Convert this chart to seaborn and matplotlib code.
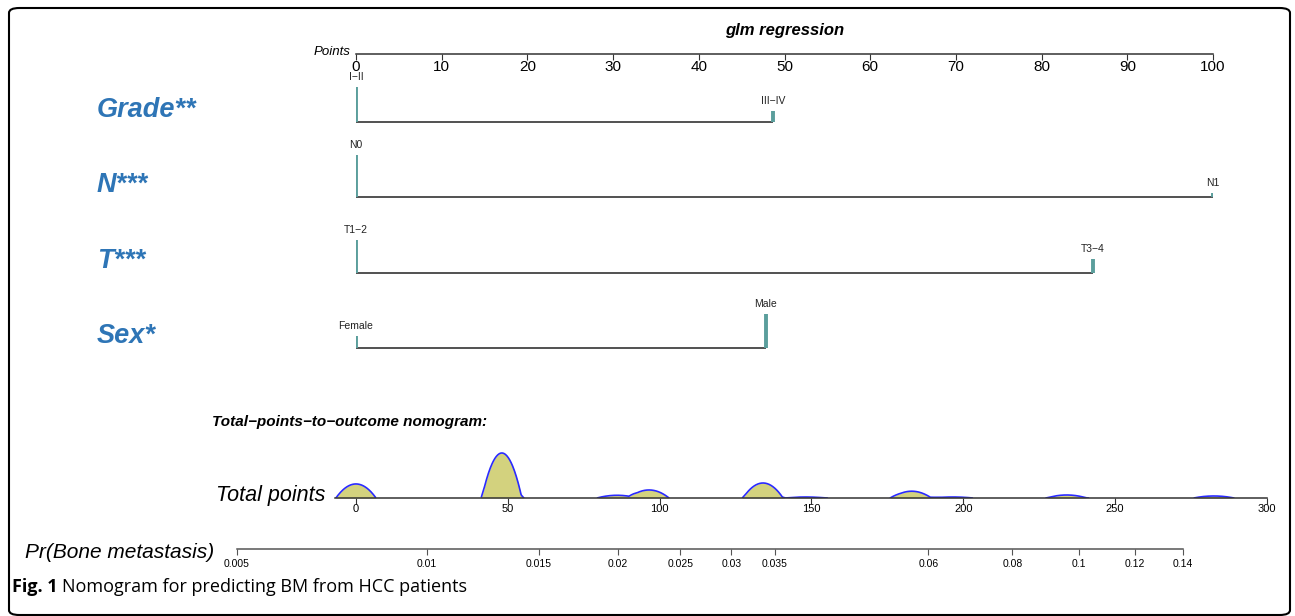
import matplotlib
matplotlib.use("Agg")
import matplotlib.pyplot as plt
import numpy as np
import seaborn as sns
from matplotlib.patches import FancyBboxPatch
from matplotlib.ticker import NullLocator

# ---- data ----
variables = ["Grade**", "N***", "T***", "Sex*"]
levels = [["I\u2212II", "III\u2212IV"], ["N0", "N1"], ["T1\u22122", "T3\u22124"],
          ["Female", "Male"]]
level_points = [[0, 48.7], [0, 100], [0, 86], [0, 47.8]]
level_share = [[0.77, 0.23], [0.91, 0.09], [0.71, 0.29], [0.26, 0.74]]

points_ticks = [0, 10, 20, 30, 40, 50, 60, 70, 80, 90, 100]
total_ticks = [0, 50, 100, 150, 200, 250, 300]

# total points of the observed covariate combinations and their frequency
total_values = [0, 47.8, 48.7, 86, 96.5, 133.8, 134.7, 147.8, 148.7,
                182.5, 186, 196.5, 233.8, 234.7, 282.5]
total_freq = [14, 33, 12, 2.7, 8, 11, 4, 0.7, 0.3, 6, 1, 1, 2.2, 0.8, 2]

prob_ticks = [0.005, 0.01, 0.015, 0.02, 0.025, 0.03, 0.035, 0.06, 0.08,
              0.1, 0.12, 0.14]
prob_labels = ["0.005", "0.01", "0.015", "0.02", "0.025", "0.03", "0.035",
               "0.06", "0.08", "0.1", "0.12", "0.14"]

# ---- style ----
W, H = 1295, 616
sns.set_theme(style="white")
plt.rcParams["font.family"] = ["Liberation Sans", "DejaVu Sans"]
plt.rcParams["text.color"] = "black"
plt.rcParams["xtick.color"] = "black"
plt.rcParams["xtick.labelcolor"] = "black"
teal = "#5b9e9c"
label_blue = "#2e75b6"

fig = plt.figure(figsize=(W / 100, H / 100), dpi=100)


def px_axes(x0, y0, x1, y1):
    return fig.add_axes([x0 / W, 1 - y1 / H, (x1 - x0) / W, (y1 - y0) / H])


def px_text(x, y, s, **kw):
    fig.text(x / W, 1 - y / H, s, **kw)


def axis_only(ax, color="#333333"):
    for side in ("top", "left", "right"):
        ax.spines[side].set_visible(False)
    ax.spines["bottom"].set_color(color)
    ax.spines["bottom"].set_linewidth(1.1)
    ax.set_yticks([])
    ax.patch.set_alpha(0)
    ax.tick_params(axis="x", direction="out", length=4, width=0.8,
                   color=color, pad=0, bottom=True)


# rounded frame
frame = FancyBboxPatch((9 / W, 1 - 615 / H), 1281 / W, 607 / H,
                       boxstyle="round,pad=0,rounding_size=0.008",
                       transform=fig.transFigure, fill=False,
                       edgecolor="black", linewidth=1.5)
fig.patches.append(frame)

# ---- Points scale ----
ax_pts = px_axes(356, 46, 1213, 54)
axis_only(ax_pts)
ax_pts.set_xlim(0, 100)
ax_pts.set_xticks(points_ticks)
ax_pts.tick_params(axis="x", labelsize=11)
px_text(785, 31, "glm regression", fontsize=12, fontweight="bold",
        fontstyle="italic", ha="center", va="center")
px_text(350, 52, "Points", fontsize=9.5, fontstyle="italic",
        ha="right", va="center")

# ---- variable rows ----
ax_rows = px_axes(356, 60, 1213, 360)
ax_rows.set_xlim(0, 100)
ax_rows.set_ylim(360, 60)
ax_rows.axis("off")
bar_scale = 46
for i, name in enumerate(variables):
    base = 122 + i * 75.3
    pts = level_points[i]
    ax_rows.hlines(base, min(pts), max(pts), color="#333333", lw=1.2)
    for lev, p, share in zip(levels[i], pts, level_share[i]):
        top = base - share * bar_scale
        ax_rows.vlines(p, base, top, color=teal, lw=2.8)
        ax_rows.text(p, top - 5, lev, fontsize=7.5, ha="center",
                     va="bottom", color="#222222")
    px_text(97, base - 12, name, fontsize=19.5, fontstyle="italic",
            fontweight="bold", color=label_blue, ha="left", va="center")

# ---- total points with Epanechnikov density ----
px_text(212, 422, "Total\u2212points\u2212to\u2212outcome nomogram:",
        fontsize=11, fontweight="bold", fontstyle="italic",
        ha="left", va="center")
ax_tot = px_axes(335, 448, 1267, 498)
axis_only(ax_tot)
ax_tot.set_xlim(-6.9, 300)
ax_tot.set_xticks(total_ticks)
ax_tot.tick_params(axis="x", labelsize=8)
grid = np.linspace(-6.9, 300, 2000)
bw = 6.6
u = (grid[:, None] - np.array(total_values)[None, :]) / bw
kern = np.clip(0.75 * (1 - u ** 2), 0, None) / bw
dens = kern @ np.array(total_freq) / np.sum(total_freq)
ax_tot.fill_between(grid, 0, dens, color="#d3d27e", lw=0)
line_y = np.where(dens > 0, dens, np.nan)
ax_tot.plot(grid, line_y, color="#2a2aff", lw=1.2)
ax_tot.set_ylim(0, dens.max() * 50 / 45)
px_text(325, 496, "Total points", fontsize=15.5, fontstyle="italic",
        ha="right", va="center")

# ---- probability scale ----
ax_pr = px_axes(237, 541, 1183, 549)
axis_only(ax_pr, color="#555555")
ax_pr.set_xscale("logit")
ax_pr.set_xlim(prob_ticks[0], prob_ticks[-1])
ax_pr.set_xticks(prob_ticks)
ax_pr.set_xticklabels(prob_labels)
ax_pr.xaxis.set_minor_locator(NullLocator())
ax_pr.tick_params(axis="x", labelsize=7.5, pad=3)
px_text(25, 553, "Pr(Bone metastasis)", fontsize=15, fontstyle="italic",
        ha="left", va="center")

# ---- caption ----
fig.text(12 / W, 1 - 587 / H, "Fig. 1", fontsize=13, fontweight="bold",
         family=["Open Sans", "DejaVu Sans"], ha="left", va="center")
fig.text(62 / W, 1 - 587 / H, "Nomogram for predicting BM from HCC patients",
         fontsize=13, family=["Open Sans", "DejaVu Sans"], ha="left",
         va="center")

fig.savefig("out.png", dpi=100)
